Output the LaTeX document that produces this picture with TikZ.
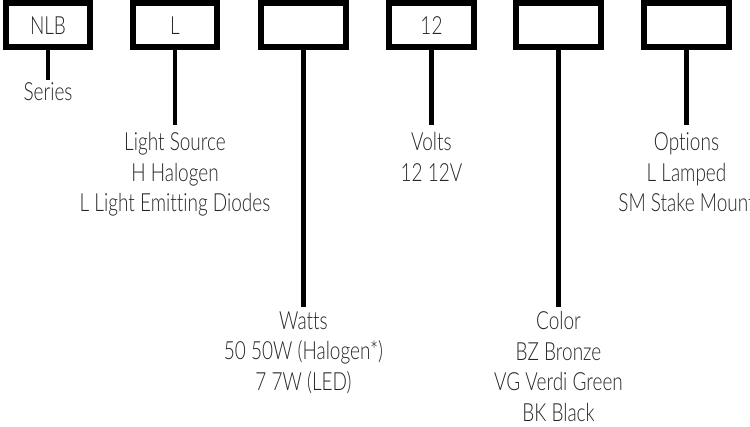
\documentclass[tikz,border=0pt]{standalone}
\usepackage{fontspec}
\setmainfont{Lato Light}[FakeStretch=0.76,Ligatures=NoCommon]
\begin{document}
\begin{tikzpicture}[x=1pt,y=-1pt,
  codebox/.style={draw=black,line width=6pt,minimum width=84.5pt,minimum height=44pt,inner sep=0pt,font=\fontsize{25}{30.5}\selectfont,text=black!85},
  stem/.style={line width=4.5pt,draw=black},
  desc/.style={anchor=north,align=center,inner sep=0pt,font=\fontsize{25}{30.5}\selectfont,text=black!85}]
\useasboundingbox (0,0) rectangle (750,427);
\node[codebox] (b1) at (48,25.3) {NLB};
\node[codebox] (b2) at (175,25.3) {L};
\node[codebox] (b3) at (303.5,25.3) {};
\node[codebox] (b4) at (431.5,25.3) {12};
\node[codebox] (b5) at (558.5,25.3) {};
\node[codebox] (b6) at (686.5,25.3) {};
\coordinate (e1) at (48,80);
\coordinate (e2) at (175,125);
\coordinate (e3) at (303.5,307);
\coordinate (e4) at (431.5,125);
\coordinate (e5) at (558.5,307);
\coordinate (e6) at (686.5,125);
\draw[stem] (b1.south) -- (e1);
\draw[stem] (b2.south) -- (e2);
\draw[stem] (b3.south) -- (e3);
\draw[stem] (b4.south) -- (e4);
\draw[stem] (b5.south) -- (e5);
\draw[stem] (b6.south) -- (e6);
\node[desc] (t1) at (48,82) {Series};
\node[desc] (t2) at (175,132.5) {Light Source\\H Halogen\\L Light Emitting Diodes};
\node[desc] (t3) at (303.5,311.5) {Watts\\50 50W (Halogen*)\\7 7W (LED)};
\node[desc] (t4) at (431.5,132.5) {Volts\\12 12V};
\node[desc] (t5) at (558.5,311.5) {Color\\BZ Bronze\\VG Verdi Green\\BK Black};
\node[desc] (t6) at (686.5,132.5) {Options\\L Lamped\\SM Stake Mount};
\end{tikzpicture}
\end{document}
